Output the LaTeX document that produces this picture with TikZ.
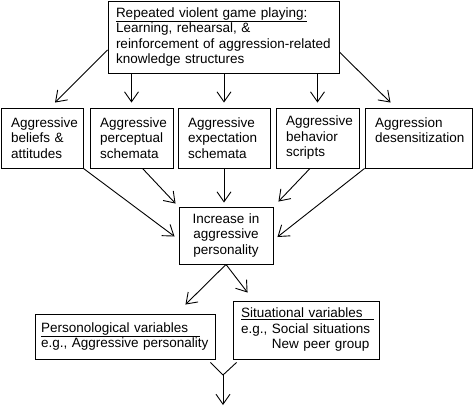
\documentclass[tikz,border=0pt]{standalone}
\usepackage{fontspec}
\setmainfont{Liberation Sans}
\usetikzlibrary{arrows.meta}

\begin{document}
\begin{tikzpicture}[x=1pt,y=-1pt,line width=0.9pt,
  >={Straight Barb[length=10pt,width=14pt]},
  font=\fontsize{13.5pt}{15.5pt}\selectfont,
  box/.style={draw,rectangle,align=left,inner xsep=10pt,minimum height=60pt}]
\useasboundingbox (0,0) rectangle (474,407);
\node (game-playing) at (223.5,37) [box,inner xsep=8pt,text width=215pt,minimum height=72pt]
  {\underline{Repeated violent game playing:}\\Learning, rehearsal, \&\\reinforcement of aggression-related\\knowledge structures};
\node (beliefs) at (42,138) [box,text width=62pt] {Aggressive\\beliefs \&\\attitudes};
\node (perceptual) at (131.5,138) [box,text width=63pt] {Aggressive\\perceptual\\schemata};
\node (expectation) at (224,138) [box,text width=72pt] {Aggressive\\expectation\\schemata};
\node (scripts) at (317.5,138) [box,text width=63pt] {Aggressive\\behavior\\scripts};
\node (desensitization) at (418.5,138) [box,text width=87pt] {Aggression\\desensitization\\\mbox{}};
\node (personality) at (226,235.5) [box,align=center,text width=74pt,minimum height=57pt] {Increase in\\aggressive\\personality};
\node (personological) at (125,336.5) [box,inner xsep=6pt,text width=168pt,minimum height=45pt]
  {\underline{Personological variables\hspace{12pt}}\\e.g., Aggressive personality};
\node (situational) at (306,330) [box,inner xsep=8pt,text width=130pt,minimum height=58pt]
  {\underline{Situational variables\hspace{11pt}}\\e.g., Social situations\\\phantom{e.g., }New peer group};
\coordinate (join) at (223,375);
\coordinate (outcome) at (223,405);
\draw[->] ([yshift=-13pt]game-playing.west) -- ([xshift=13pt,yshift=5pt]beliefs.north);
\draw[->,shorten >=5pt] (perceptual.north |- game-playing.south) -- (perceptual.north);
\draw[->,shorten >=5pt] (expectation.north |- game-playing.south) -- (expectation.north);
\draw[->,shorten >=5pt] (scripts.north |- game-playing.south) -- (scripts.north);
\draw[->] ([yshift=-15pt]game-playing.east) -- ([xshift=-28pt,yshift=5pt]desensitization.north);
\draw[->] (beliefs.south east) -- ([xshift=-4pt,yshift=-1pt]personality.west);
\draw[->] ([xshift=11pt]perceptual.south) -- ([xshift=-3pt,yshift=3pt]personality.north west);
\draw[->,shorten >=4pt] (expectation.south) -- (expectation.south |- personality.north);
\draw[->] ([xshift=-7.5pt]scripts.south) -- ([xshift=5pt,yshift=5pt]personality.north east);
\draw[->] (desensitization.south west) -- ([xshift=4pt,yshift=-1.5pt]personality.east);
\draw[->] (personality.south) -- ([xshift=-30pt,yshift=9pt]personological.north east);
\draw[->] (personality.south) -- ([xshift=15pt,yshift=8pt]situational.north west);
\draw ([xshift=-5pt,yshift=-3pt]personological.south east) -- (join);
\draw ([xshift=4pt,yshift=-3pt]situational.south west) -- (join);
\draw[->] (join) -- (outcome);
\end{tikzpicture}
\end{document}
